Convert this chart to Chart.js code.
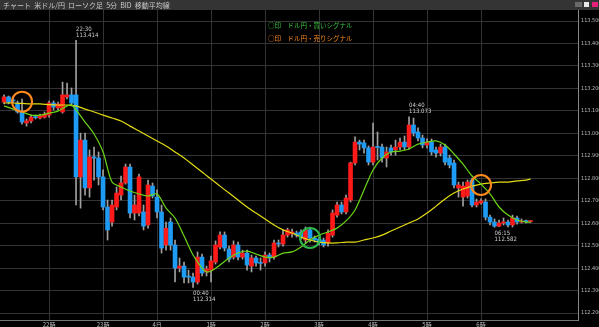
<!DOCTYPE html>
<html>
<head>
<meta charset="utf-8">
<script src="https://cdn.jsdelivr.net/npm/chart.js@4/dist/chart.umd.min.js"></script>
<style>
html, body { margin: 0; padding: 0; background: #000; }
</style>
</head>
<body>
<canvas id="chart" width="599" height="327"></canvas>
<script>
// 5分足 (21:10 - 06:55)
const times = [
  "21:10","21:15","21:20","21:25","21:30","21:35","21:40","21:45","21:50","21:55",
  "22:00","22:05","22:10","22:15","22:20","22:25","22:30","22:35","22:40","22:45","22:50","22:55",
  "23:00","23:05","23:10","23:15","23:20","23:25","23:30","23:35","23:40","23:45","23:50","23:55",
  "00:00","00:05","00:10","00:15","00:20","00:25","00:30","00:35","00:40","00:45","00:50","00:55",
  "01:00","01:05","01:10","01:15","01:20","01:25","01:30","01:35","01:40","01:45","01:50","01:55",
  "02:00","02:05","02:10","02:15","02:20","02:25","02:30","02:35","02:40","02:45","02:50","02:55",
  "03:00","03:05","03:10","03:15","03:20","03:25","03:30","03:35","03:40","03:45","03:50","03:55",
  "04:00","04:05","04:10","04:15","04:20","04:25","04:30","04:35","04:40","04:45","04:50","04:55",
  "05:00","05:05","05:10","05:15","05:20","05:25","05:30","05:35","05:40","05:45","05:50","05:55",
  "06:00","06:05","06:10","06:15","06:20","06:25","06:30","06:35","06:40","06:45","06:50","06:55"
];
const opens = [
  113.139,113.162,113.148,113.135,113.095,113.046,113.055,113.072,113.068,113.072,
  113.081,113.135,113.113,113.095,113.162,113.171,113.171,112.806,112.970,112.757,112.895,112.890,
  112.806,112.672,112.605,112.672,112.725,112.779,112.850,112.645,112.645,112.650,112.592,112.765,
  112.716,112.650,112.503,112.605,112.503,112.400,112.409,112.362,112.360,112.338,112.449,112.383,
  112.391,112.427,112.494,112.547,112.485,112.449,112.503,112.449,112.467,112.409,112.445,112.423,
  112.423,112.458,112.449,112.509,112.507,112.547,112.552,112.556,112.561,112.525,112.570,112.534,
  112.529,112.525,112.512,112.547,112.636,112.681,112.650,112.703,112.868,112.961,112.957,112.935,
  112.872,112.939,112.939,112.890,112.935,112.926,112.939,112.961,112.939,113.037,113.006,112.979,
  112.948,112.961,112.926,112.912,112.939,112.890,112.868,112.757,112.716,112.721,112.792,112.681,
  112.690,112.694,112.627,112.605,112.587,112.601,112.605,112.592,112.623,112.605,112.609,112.607
];
const highs = [
  113.171,113.166,113.157,113.144,113.153,113.064,113.081,113.081,113.086,113.095,
  113.144,113.144,113.139,113.228,113.224,113.202,113.414,113.001,113.001,112.926,112.939,112.917,
  112.837,112.703,112.703,112.761,112.810,112.863,112.863,112.725,112.819,112.681,112.792,112.779,
  112.748,112.681,112.605,112.623,112.525,112.445,112.427,112.391,112.378,112.472,112.463,112.409,
  112.454,112.521,112.561,112.561,112.498,112.521,112.516,112.480,112.480,112.458,112.454,112.445,
  112.472,112.467,112.525,112.525,112.570,112.578,112.574,112.565,112.570,112.583,112.583,112.543,
  112.538,112.534,112.570,112.659,112.694,112.694,112.725,112.872,112.984,112.970,112.970,112.944,
  113.046,113.006,112.952,112.939,112.948,112.970,112.979,112.988,113.073,113.068,113.024,112.992,
  112.975,112.975,112.939,112.952,112.952,112.903,112.881,112.783,112.783,112.792,112.801,112.708,
  112.708,112.708,112.636,112.619,112.614,112.623,112.614,112.636,112.632,112.619,112.614,112.612
];
const lows = [
  113.131,113.131,113.135,113.090,113.041,113.032,113.046,113.064,113.064,113.068,
  113.072,113.104,113.104,113.090,113.153,113.122,112.681,112.667,112.725,112.716,112.792,112.770,
  112.659,112.525,112.587,112.659,112.703,112.774,112.623,112.614,112.632,112.570,112.578,112.712,
  112.623,112.467,112.480,112.480,112.338,112.383,112.334,112.334,112.314,112.329,112.365,112.365,
  112.338,112.418,112.485,112.476,112.427,112.440,112.436,112.440,112.391,112.383,112.409,112.391,
  112.409,112.427,112.440,112.494,112.498,112.538,112.538,112.538,112.529,112.512,112.516,112.516,
  112.503,112.494,112.498,112.538,112.627,112.641,112.641,112.694,112.859,112.926,112.912,112.859,
  112.859,112.881,112.872,112.850,112.903,112.903,112.926,112.926,112.930,112.988,112.966,112.935,
  112.935,112.903,112.894,112.899,112.859,112.846,112.757,112.716,112.676,112.712,112.672,112.672,
  112.685,112.614,112.592,112.582,112.585,112.592,112.583,112.583,112.596,112.601,112.601,112.603
];
const closes = [
  113.162,113.139,113.144,113.095,113.050,113.055,113.072,113.070,113.077,113.086,
  113.135,113.117,113.131,113.171,113.171,113.135,112.806,112.970,112.757,112.895,112.890,112.806,
  112.672,112.570,112.681,112.734,112.779,112.850,112.645,112.681,112.806,112.587,112.770,112.721,
  112.650,112.489,112.578,112.503,112.400,112.409,112.360,112.360,112.338,112.449,112.378,112.396,
  112.432,112.503,112.547,112.489,112.440,112.503,112.449,112.467,112.414,112.445,112.423,112.421,
  112.458,112.445,112.512,112.507,112.547,112.570,112.561,112.547,112.538,112.570,112.534,112.525,
  112.512,112.503,112.556,112.645,112.681,112.650,112.712,112.868,112.961,112.952,112.935,112.872,
  112.939,112.937,112.890,112.917,112.917,112.939,112.961,112.939,113.037,113.001,112.979,112.948,
  112.961,112.917,112.912,112.939,112.872,112.859,112.770,112.770,112.765,112.783,112.681,112.694,
  112.699,112.627,112.605,112.587,112.601,112.605,112.592,112.623,112.605,112.610,112.607,112.607
];

// 移動平均線
const maTimes = [
  "21:10","21:20","21:30","21:40","21:50","22:00","22:10","22:20","22:25","22:30","22:40","22:50",
  "23:00","23:10","23:20","23:30","23:40","23:50","00:00","00:10","00:20","00:30","00:40","00:50",
  "00:55","01:00","01:10","01:20","01:30","01:40","01:50","02:00","02:10","02:20","02:30","02:40",
  "02:50","03:00","03:10","03:20","03:30","03:40","03:50","04:00","04:10","04:20","04:30","04:40",
  "04:50","05:00","05:10","05:20","05:30","05:40","05:50","06:00","06:10","06:20","06:30","06:40",
  "06:50","06:55"
];
const maShort = [
  113.122,113.108,113.095,113.081,113.081,113.090,113.099,113.122,113.126,113.104,113.050,112.997,
  112.917,112.783,112.761,112.743,112.730,112.721,112.730,112.667,112.623,112.543,112.458,112.400,
  112.383,112.387,112.414,112.445,112.467,112.476,112.463,112.449,112.449,112.467,112.472,112.494,
  112.525,112.547,112.561,112.578,112.610,112.659,112.748,112.837,112.890,112.917,112.921,112.930,
  112.952,112.961,112.966,112.948,112.908,112.863,112.810,112.774,112.730,112.672,112.636,112.614,
  112.605,112.605
];
const maLong = [
  113.135,113.135,113.133,113.131,113.131,113.128,113.126,113.126,113.124,113.122,113.108,113.095,
  113.081,113.068,113.055,113.032,113.010,112.988,112.966,112.944,112.917,112.890,112.859,112.828,
  112.812,112.797,112.765,112.734,112.703,112.672,112.645,112.619,112.592,112.570,112.556,112.538,
  112.525,112.516,112.512,112.512,112.516,112.516,112.525,112.534,112.547,112.565,112.583,112.601,
  112.619,112.645,112.676,112.708,112.734,112.752,112.765,112.774,112.779,112.783,112.783,112.788,
  112.792,112.797
];

// シグナル
const buyTimes = ["02:50"];
const buyPrices = [112.534];
const sellTimes = ["21:30", "06:00"];
const sellPrices = [113.141, 112.770];

// 高値・安値の注記
const noteTimes = ["22:30", "00:40", "04:40", "06:15"];
const notePrices = [113.414, 112.314, 113.073, 112.582];
const noteSides = ["high", "low", "high", "low"];

// 軸
const hourTimes = ["22:00", "23:00", "00:00", "01:00", "02:00", "03:00", "04:00", "05:00", "06:00"];
const hourLabels = ["22時", "23時", "4日", "1時", "2時", "3時", "4時", "5時", "6時"];
const yMin = 112.169, yMax = 113.549;
const xMin = -10.9, xMax = 117.55;

const title = "チャート  米ドル/円  ローソク足  5分  BID  移動平均線";
const buyLabel = "○印　ドル円・買いシグナル";
const sellLabel = "○印　ドル円・売りシグナル";

const UP = "#ff1a1a", DOWN = "#1e9cf5", WICK = "#a0a0a0";
const JP = '"Noto Sans CJK JP", sans-serif';
const NUM = '"Liberation Sans Narrow", "DejaVu Sans Condensed", sans-serif';

// 22:00 からの本数
function idx(t) {
	let [h, m] = t.split(":").map(Number);
	if (h < 12) h += 24;
	return ((h - 22) * 60 + m) / 5;
}

const wicks = times.map((t, i) => ({x: idx(t), y: [lows[i], highs[i]]}));
const bodies = times.map((t, i) => ({x: idx(t), y: [opens[i], closes[i]]}));
const bodyColors = times.map((t, i) => closes[i] >= opens[i] ? UP : DOWN);

const decor = {
	id: "decor",
	beforeDraw(chart) {
		const g = chart.ctx;
		g.save();
		g.fillStyle = "#000";
		g.fillRect(0, 0, chart.width, chart.height);
		g.fillStyle = "#343434";
		g.fillRect(0, 0, chart.width, 10);
		g.font = "7px " + JP;
		g.fillStyle = "#c8c8c8";
		g.textBaseline = "middle";
		g.fillText(title, 3, 5);
		g.fillStyle = "#6a6a6a";
		g.fillRect(575, 2, 7, 5);
		g.fillStyle = "#e6e6e6";
		g.fillRect(584, 2, 5, 5);
		g.fillStyle = "#e8207c";
		g.fillRect(592, 2, 6, 5);
		g.restore();
	},
	afterDatasetsDraw(chart) {
		const g = chart.ctx;
		const xs = chart.scales.x, ys = chart.scales.y;
		g.save();
		g.font = "6.5px " + JP;
		g.textBaseline = "middle";
		g.fillStyle = "#39c43c";
		g.fillText(buyLabel, 268, 26);
		g.fillStyle = "#ff8a1e";
		g.fillText(sellLabel, 268, 39);

		g.font = "6px " + NUM;
		g.fillStyle = "#cfcfcf";
		noteTimes.forEach((t, i) => {
			const x = xs.getPixelForValue(idx(t));
			const y = ys.getPixelForValue(notePrices[i]);
			const hi = noteSides[i] === "high";
			const y1 = hi ? y - 11 : y + 6;
			g.fillText(t, x, y1);
			g.fillText(notePrices[i].toFixed(3), x, y1 + 6);
		});
		g.restore();
	}
};

new Chart(document.getElementById("chart").getContext("2d"), {
	type: "bar",
	data: {
		datasets: [
			{
				type: "scatter",
				data: sellTimes.map((t, i) => ({x: idx(t), y: sellPrices[i]})),
				pointRadius: 10,
				pointBorderWidth: 2,
				pointBorderColor: "#ff8a1e",
				pointBackgroundColor: "rgba(0,0,0,0)",
				order: -2
			},
			{
				type: "scatter",
				data: buyTimes.map((t, i) => ({x: idx(t), y: buyPrices[i]})),
				pointRadius: 10,
				pointBorderWidth: 2,
				pointBorderColor: "#2fb84a",
				pointBackgroundColor: "rgba(0,0,0,0)",
				order: -2
			},
			{
				type: "line",
				data: maTimes.map((t, i) => ({x: idx(t), y: maShort[i]})),
				borderColor: "#6ad616",
				borderWidth: 1.2,
				pointRadius: 0,
				tension: 0.3,
				order: -1
			},
			{
				type: "line",
				data: maTimes.map((t, i) => ({x: idx(t), y: maLong[i]})),
				borderColor: "#e3dc12",
				borderWidth: 1.2,
				pointRadius: 0,
				tension: 0.3,
				order: -1
			},
			{
				data: bodies,
				backgroundColor: bodyColors,
				barThickness: 4,
				minBarLength: 1,
				grouped: false,
				order: 1
			},
			{
				data: wicks,
				backgroundColor: WICK,
				barThickness: 1,
				grouped: false,
				order: 2
			}
		]
	},
	options: {
		responsive: false,
		animation: false,
		devicePixelRatio: 1,
		layout: {autoPadding: false, padding: {top: 10, left: 0, right: 0, bottom: 0}},
		plugins: {legend: {display: false}, tooltip: {enabled: false}},
		scales: {
			x: {
				type: "linear",
				offset: false,
				min: xMin,
				max: xMax,
				afterFit(s) { s.height = 7; s.paddingLeft = 0; s.paddingRight = 0; },
				afterBuildTicks(s) { s.ticks = hourTimes.map(t => ({value: idx(t)})); },
				grid: {color: "#333", drawTicks: false, offset: false},
				border: {color: "#777"},
				ticks: {
					autoSkip: false,
					maxRotation: 0,
					padding: 1,
					color: "#bbb",
					font: {size: 6, family: JP},
					callback: (v, i) => hourLabels[i]
				}
			},
			y: {
				position: "right",
				min: yMin,
				max: yMax,
				afterFit(s) { s.width = 21; s.paddingTop = 0; s.paddingBottom = 0; },
				grid: {color: "#333", drawTicks: false},
				border: {color: "#888"},
				ticks: {
					stepSize: 0.1,
					includeBounds: false,
					padding: 3,
					color: "#bbb",
					font: {size: 5.5, family: NUM},
					callback: v => v.toFixed(3)
				}
			}
		}
	},
	plugins: [decor]
});
</script>
</body>
</html>
